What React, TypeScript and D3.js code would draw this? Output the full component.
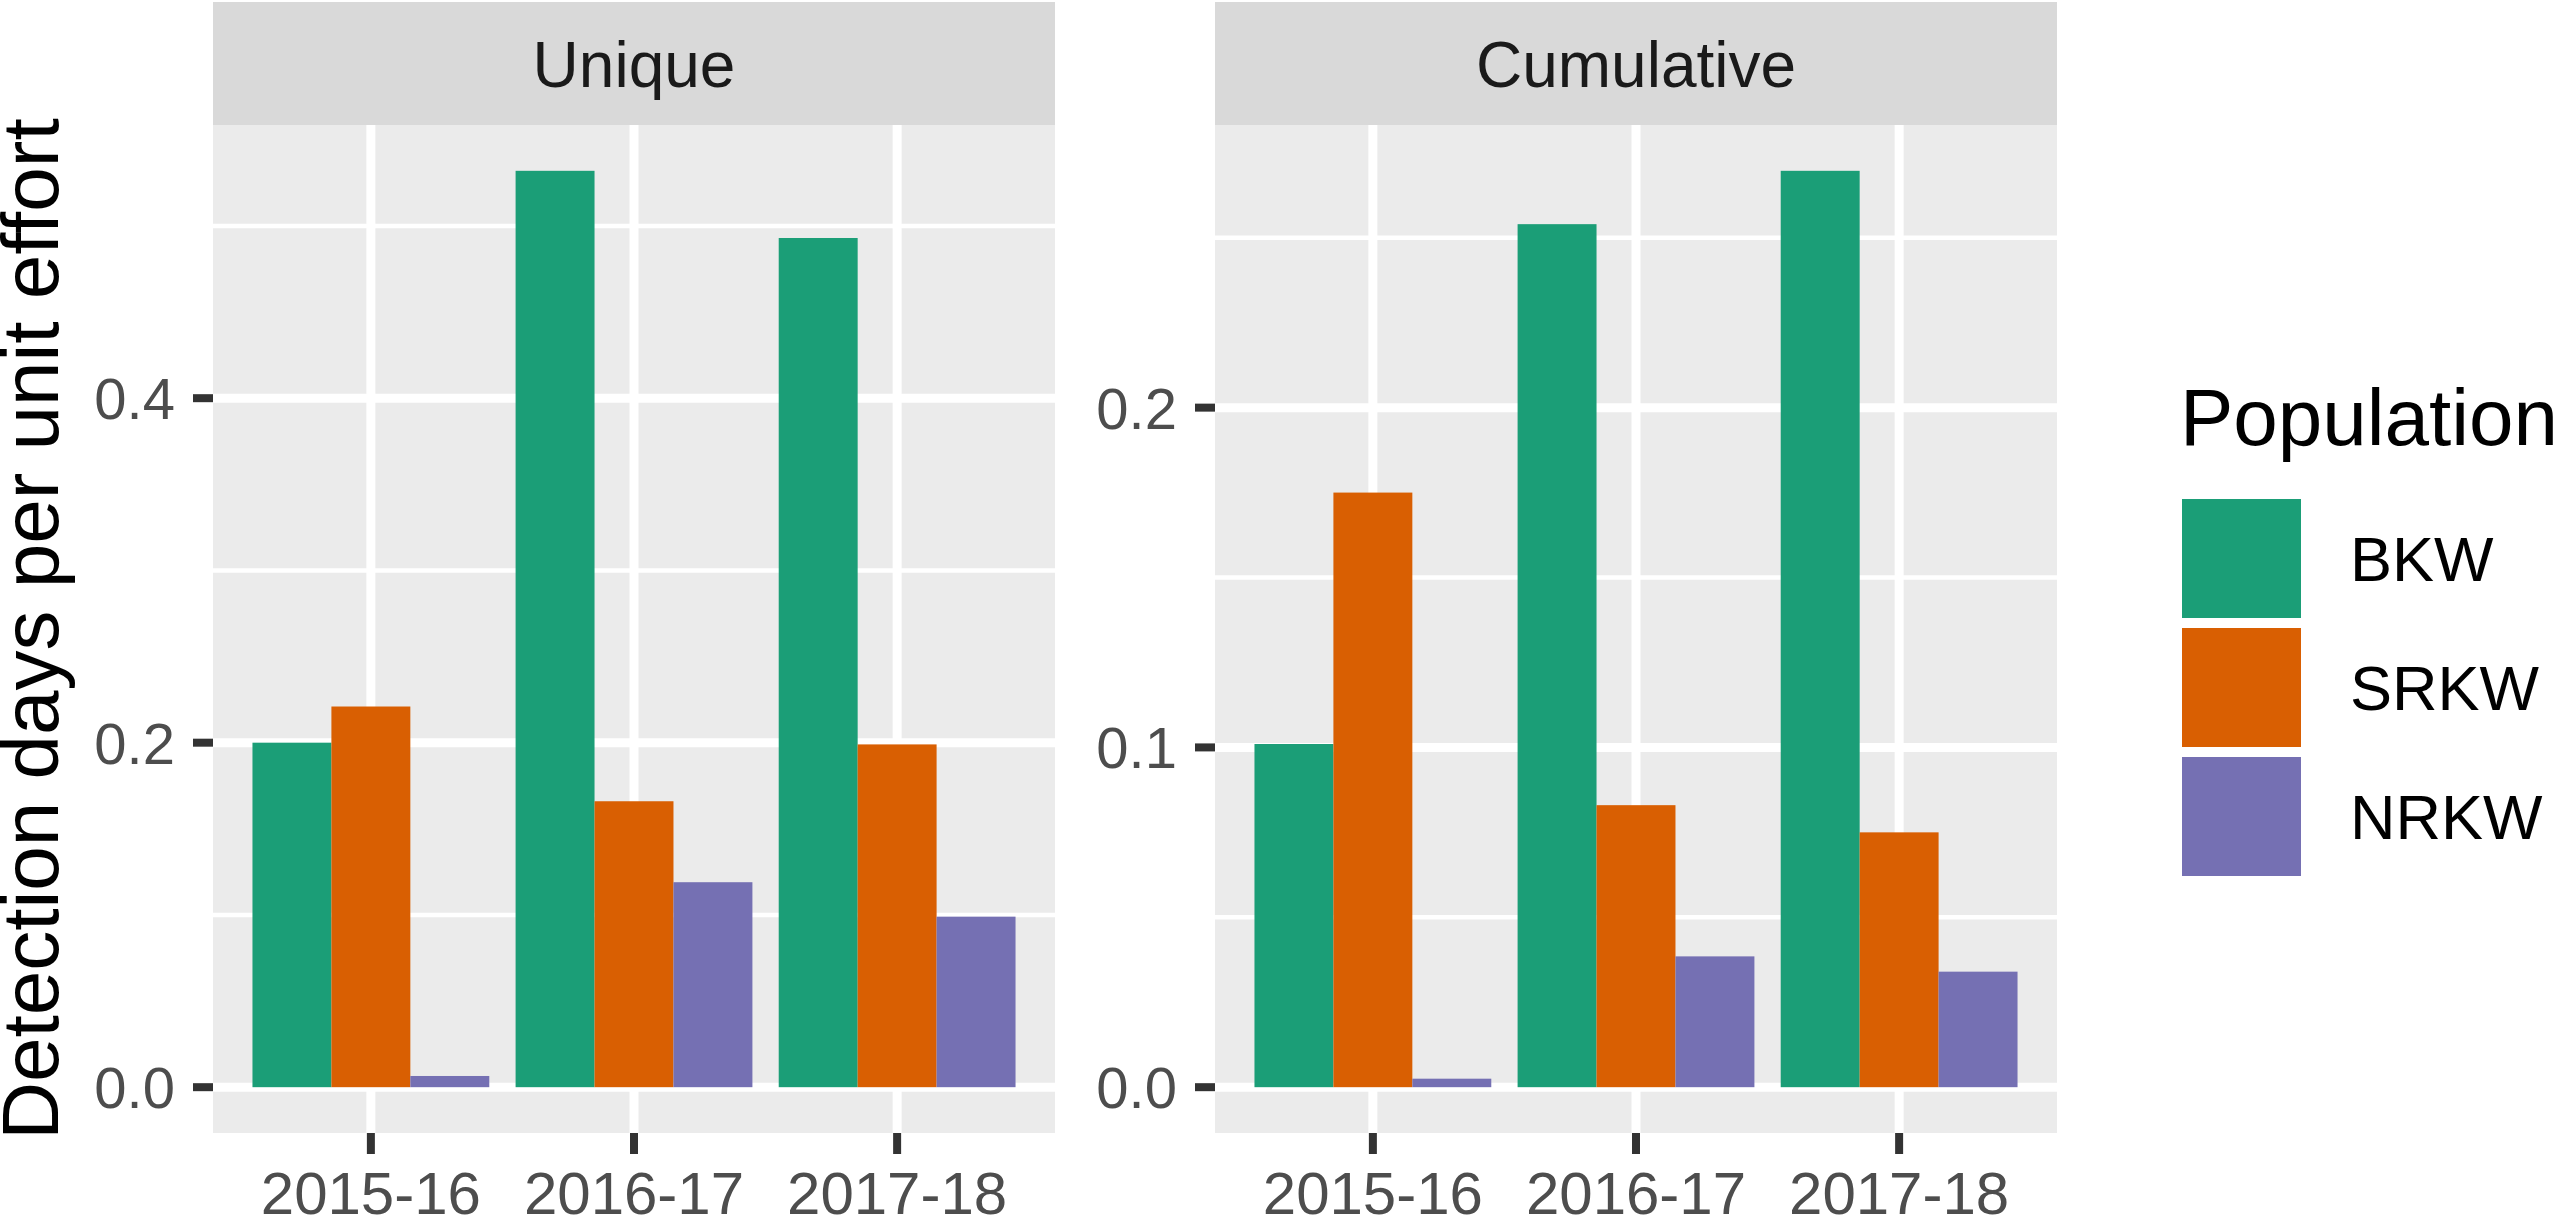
import React from 'react';
import { scaleLinear, scalePoint, scaleBand, format } from 'd3';

const seasons = ['2015-16', '2016-17', '2017-18'];
const populations = ['BKW', 'SRKW', 'NRKW'];
const colours = ['#1B9E77', '#D95F02', '#7570B3'];

const uniqueBKW = [0.2, 0.532, 0.493];
const uniqueSRKW = [0.221, 0.166, 0.199];
const uniqueNRKW = [0.0065, 0.119, 0.099];

const cumulativeBKW = [0.101, 0.254, 0.2697];
const cumulativeSRKW = [0.175, 0.083, 0.075];
const cumulativeNRKW = [0.0025, 0.0385, 0.034];

const uniqueTicks = [0, 0.2, 0.4];
const uniqueMinor = [0.1, 0.3, 0.5];
const cumulativeTicks = [0, 0.1, 0.2];
const cumulativeMinor = [0.05, 0.15, 0.25];

const facets = [
  { title: 'Unique', series: [uniqueBKW, uniqueSRKW, uniqueNRKW], ticks: uniqueTicks, minor: uniqueMinor, left: 213 },
  { title: 'Cumulative', series: [cumulativeBKW, cumulativeSRKW, cumulativeNRKW], ticks: cumulativeTicks, minor: cumulativeMinor, left: 1215 },
];

const W = 2559;
const H = 1215;
const panelW = 842;
const top = 125;
const bottom = 1133;
const font = 'Liberation Sans, Arial, Helvetica, sans-serif';
const fmt = format('.1f');

function Panel({ facet }: { facet: typeof facets[number] }) {
  const left = facet.left;
  const right = left + panelW;
  const max = Math.max(...facet.series.flat());
  const y = scaleLinear().domain([-0.05 * max, 1.05 * max]).range([bottom, top]);
  const x = scalePoint().domain(seasons).range([left, right]).padding(0.6);
  const step = x.step();
  const dodge = scaleBand().domain(populations).range([-0.45 * step, 0.45 * step]);

  return (
    <g>
      {/* strip */}
      <rect x={left} y={2} width={panelW} height={top - 2} fill="#D9D9D9" />
      <text x={(left + right) / 2} y={87} textAnchor="middle" fontSize={64} fill="#1A1A1A">{facet.title}</text>

      {/* panel + grid */}
      <rect x={left} y={top} width={panelW} height={bottom - top} fill="#EBEBEB" />
      {facet.minor.filter(v => y(v) > top).map(v => (
        <line key={'m' + v} x1={left} x2={right} y1={y(v)} y2={y(v)} stroke="#fff" strokeWidth={4.5} />
      ))}
      {facet.ticks.map(v => (
        <line key={'t' + v} x1={left} x2={right} y1={y(v)} y2={y(v)} stroke="#fff" strokeWidth={9} />
      ))}
      {seasons.map(s => (
        <line key={s} x1={x(s)} x2={x(s)} y1={top} y2={bottom} stroke="#fff" strokeWidth={9} />
      ))}

      {/* bars */}
      {facet.series.map((vals, i) =>
        vals.map((v, j) => (
          <rect
            key={populations[i] + seasons[j]}
            x={(x(seasons[j]) as number) + (dodge(populations[i]) as number)}
            y={y(v)}
            width={dodge.bandwidth()}
            height={y(0) - y(v)}
            fill={colours[i]}
          />
        ))
      )}

      {/* y axis */}
      {facet.ticks.map(v => (
        <g key={'y' + v}>
          <line x1={left - 20} x2={left} y1={y(v)} y2={y(v)} stroke="#333" strokeWidth={8} />
          <text x={left - 38} y={y(v)} dy="0.36em" textAnchor="end" fontSize={58} fill="#4D4D4D">{fmt(v)}</text>
        </g>
      ))}

      {/* x axis */}
      {seasons.map(s => (
        <g key={'x' + s}>
          <line x1={x(s)} x2={x(s)} y1={bottom} y2={bottom + 21} stroke="#333" strokeWidth={8} />
          <text x={x(s)} y={1214} textAnchor="middle" fontSize={60} fill="#4D4D4D">{s}</text>
        </g>
      ))}
    </g>
  );
}

function App() {
  return (
    <svg
      width={W}
      height={H}
      style={{ position: 'absolute', left: 0, top: 0, background: '#fff', fontFamily: font }}
    >
      <rect width={W} height={H} fill="#fff" />
      <text transform={`translate(58, ${(top + bottom) / 2}) rotate(-90)`} textAnchor="middle" fontSize={80} fill="#000">
        Detection days per unit effort
      </text>
      {facets.map(f => <Panel key={f.title} facet={f} />)}

      {/* legend */}
      <text x={2180} y={445} fontSize={80} fill="#000">Population</text>
      {populations.map((p, i) => (
        <g key={p}>
          <rect x={2182} y={499 + i * 129} width={119} height={119} fill={colours[i]} />
          <text x={2350} y={499 + i * 129 + 59.5} dy="0.36em" fontSize={63} fill="#000">{p}</text>
        </g>
      ))}
    </svg>
  );
}

export default App;
